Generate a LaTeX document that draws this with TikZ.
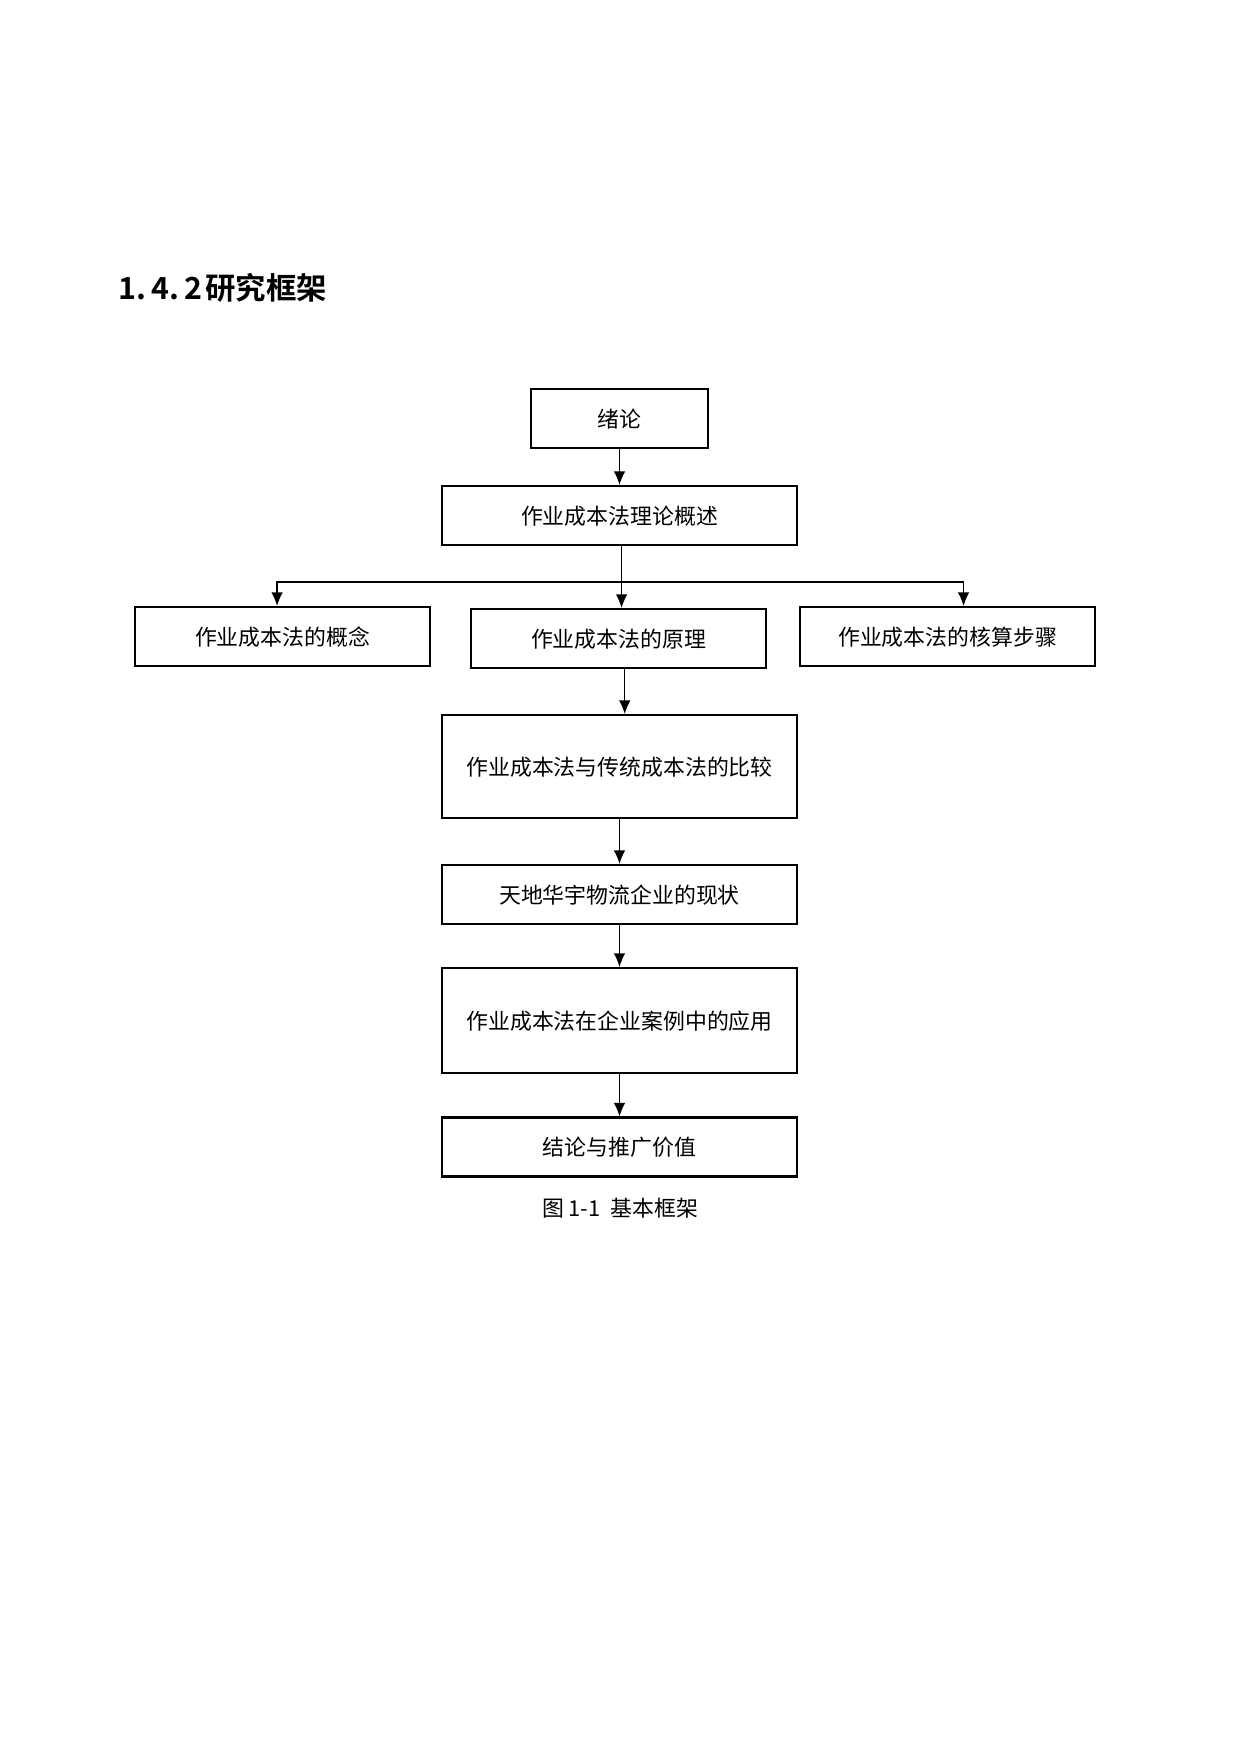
\documentclass[tikz,border=0pt]{standalone}
\usepackage{fontspec}
\usetikzlibrary{arrows.meta}
\newfontfamily\cjk{Noto Sans CJK SC}[BoldFont={Noto Sans CJK SC Bold}]

\tikzset{
	box/.style={draw, line width=1pt, font=\cjk\fontsize{10.5pt}{12pt}\selectfont, inner sep=0pt, minimum height=28.3pt, text depth=0.5pt},
	link/.style={line width=0.6pt, -{Latex[length=6.5pt,width=5.5pt]}}
}

\begin{document}
\begin{tikzpicture}[x=0.48pt,y=-0.48pt]

	\useasboundingbox (0,0) rectangle (1240,1754);

	\node[anchor=west, inner sep=0pt, font=\cjk\bfseries\fontsize{14.6pt}{18pt}\selectfont] (title) at (118,288) {1.\kern2.5pt4.\kern2.5pt2\kern1.5pt 研究框架};

	\node[box, minimum width=85pt] (intro) at (619.5,418.5) {绪论};
	\node[box, minimum width=170.4pt] (theory) at (619.5,515.5) {作业成本法理论概述};

	\node[box, minimum width=141.6pt] (concept) at (282.5,636.5) {作业成本法的概念};
	\node[box, minimum width=141.6pt] (principle) at (618.5,638.5) {作业成本法的原理};
	\node[box, minimum width=141.6pt] (steps) at (947.5,636.5) {作业成本法的核算步骤};

	\node[box, minimum width=170.4pt, minimum height=49.4pt] (compare) at (619.5,766.5) {作业成本法与传统成本法的比较};
	\node[box, minimum width=170.4pt] (status) at (619.5,894.5) {天地华宇物流企业的现状};
	\node[box, minimum width=170.4pt, minimum height=50.4pt] (apply) at (619.5,1020.5) {作业成本法在企业案例中的应用};
	\node[box, minimum width=170.4pt] (final) at (619.5,1147) {结论与推广价值};

	\node[font=\cjk\fontsize{10.5pt}{12pt}\selectfont] (caption) at (620,1208) {图 1-1\ \ 基本框架};

	% arrows
	\draw[link] (intro) -- (theory);
	\draw[link] ([xshift=1pt]theory.south) -- ([xshift=1pt]theory.south |- principle.north);
	\coordinate (split) at ([xshift=1pt,yshift=-17.3pt]theory.south);
	\draw[link] (split) -| ([xshift=-2.6pt]concept.north);
	\draw[link] (split) -| ([xshift=7.7pt]steps.north);
	\draw[link] ([xshift=3pt]principle.south) -- ([xshift=3pt]principle.south |- compare.north);
	\draw[link] (compare) -- (status);
	\draw[link] (status) -- (apply);
	\draw[link] (apply) -- (final);

\end{tikzpicture}
\end{document}
